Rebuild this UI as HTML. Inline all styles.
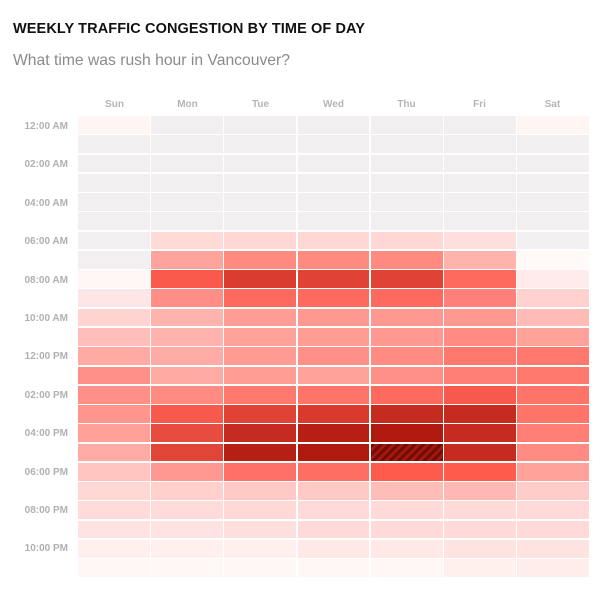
<!DOCTYPE html>
<html><head><meta charset="utf-8"><style>
body{margin:0;width:607px;height:593px;background:#fff;font-family:"Liberation Sans",sans-serif;position:relative;overflow:hidden}
.t{position:absolute;left:13px;top:21px;font-size:14.5px;font-weight:bold;color:#111;letter-spacing:0.1px}
.s{position:absolute;left:13px;top:52px;font-size:15.7px;color:#8a8a8a}
.d{position:absolute;top:99px;width:73px;text-align:center;font-size:10px;font-weight:bold;color:#b5b5b5}
.h{position:absolute;right:539px;font-size:10px;font-weight:bold;color:#b0b0b0;white-space:nowrap;line-height:12px}
#g{position:absolute;left:78px;top:116px;width:511px;height:461px;display:grid;grid-template-columns:repeat(7,1fr);grid-template-rows:repeat(24,1fr);gap:1.5px;background:#fff}
</style></head><body>
<div class="t">WEEKLY TRAFFIC CONGESTION BY TIME OF DAY</div>
<div class="s">What time was rush hour in Vancouver?</div>
<div class="d" style="left:78px">Sun</div><div class="d" style="left:151px">Mon</div><div class="d" style="left:224px">Tue</div><div class="d" style="left:297px">Wed</div><div class="d" style="left:370px">Thu</div><div class="d" style="left:443px">Fri</div><div class="d" style="left:516px">Sat</div>
<div class="h" style="top:121px">12:00 AM</div>
<div class="h" style="top:159px">02:00 AM</div>
<div class="h" style="top:198px">04:00 AM</div>
<div class="h" style="top:236px">06:00 AM</div>
<div class="h" style="top:275px">08:00 AM</div>
<div class="h" style="top:313px">10:00 AM</div>
<div class="h" style="top:351px">12:00 PM</div>
<div class="h" style="top:390px">02:00 PM</div>
<div class="h" style="top:428px">04:00 PM</div>
<div class="h" style="top:467px">06:00 PM</div>
<div class="h" style="top:505px">08:00 PM</div>
<div class="h" style="top:543px">10:00 PM</div>
<div id="g"></div>
<script>
var m=[
"fff6f4,f1eff0,f1eff0,f1eff0,f1eff0,f1eff0,fff6f4",
"f1eff0,f1eff0,f1eff0,f1eff0,f1eff0,f1eff0,f1eff0",
"f1eff0,f1eff0,f1eff0,f1eff0,f1eff0,f1eff0,f1eff0",
"f1eff0,f1eff0,f1eff0,f1eff0,f1eff0,f1eff0,f1eff0",
"f1eff0,f1eff0,f1eff0,f1eff0,f1eff0,f1eff0,f1eff0",
"f1eff0,f1eff0,f1eff0,f1eff0,f1eff0,f1eff0,f1eff0",
"f1eff0,ffdad7,ffd8d5,ffd8d5,ffd8d5,ffdfdd,f1eff0",
"f1eff0,ffa49c,ff8b80,ff8b80,ff8b80,ffb3ad,fff9f7",
"fff6f5,f95a4c,da3c2f,e04335,e04335,ff6a5e,ffebeb",
"ffe6e6,ff8f86,ff6a5e,ff6a5e,ff6a5e,ff8078,ffd2cf",
"ffd3d0,ffb3ad,ff9d95,ff9890,ff9890,ff9890,ffbcb7",
"ffbeb9,ffb3ad,ffa29a,ff9d95,ff9890,ff8b82,ffa29a",
"ffaaa3,ffaba5,ff9b93,ff9088,ff8b82,ff786e,ff786e",
"ff9088,ffaaa3,ff9d95,ffa29a,ff9088,ff7f76,ff786e",
"ff9088,ff8b82,ff786e,ff7468,ff6a5e,f75a4c,ff7468",
"ff958d,f7594c,e04335,d93a2d,c52b1f,c52b1f,ff7468",
"ffa199,e84c3f,c52b1f,b51f14,b0190e,c52b1f,ff7e76",
"ffaba5,e04538,b51f14,b0190e,H,c52b1f,ff8b82",
"ffc5c0,ff9890,ff7068,ff6e62,ff5b4d,ff5b4d,ffa29a",
"ffd8d5,ffd0cc,ffc9c5,ffc9c5,ffbdb8,ffb8b3,ffcdc9",
"ffdcda,ffdcda,ffd9d6,ffdad8,ffdad8,ffdad8,ffdad8",
"ffe3e3,ffe3e3,ffdfdd,ffdad8,ffdad8,ffdad8,ffdad8",
"fff0ee,fff0ee,fff0ee,ffe9e7,ffe9e7,ffe3e1,ffe3e1",
"fff7f5,fff7f5,fff7f5,fff6f5,fff6f5,fff0ee,ffedeb"];
var g=document.getElementById('g'),h='';
m.forEach(function(r){r.split(',').forEach(function(c){
h+='<div style="background:'+(c=='H'?'repeating-linear-gradient(135deg,#6e0e07 0 3px,#a8170d 3px 6px)':'#'+c)+'"></div>';});});
g.innerHTML=h;
</script>
</body></html>
